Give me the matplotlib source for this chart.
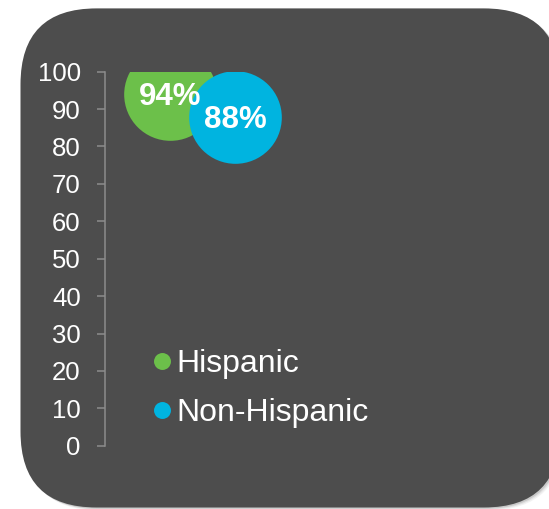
import matplotlib
matplotlib.use("Agg")
import matplotlib.pyplot as plt
from matplotlib.patches import FancyBboxPatch
from matplotlib.lines import Line2D

plt.rcParams['font.family'] = ['Liberation Sans', 'DejaVu Sans']

# data
groups = ["Hispanic", "Non-Hispanic"]
values = [94, 88]
labels = ["94%", "88%"]
xpos = [1, 2]
yticks = [0, 10, 20, 30, 40, 50, 60, 70, 80, 90, 100]

colors = ["#6CC04A", "#00B4E0"]
bg = "#4D4D4D"

fig = plt.figure(figsize=(5.49, 5.09), dpi=100)
fig.patch.set_facecolor("white")

# shadow layers
for i, (dx, dy, a) in enumerate([(0.035, -0.03, 0.10), (0.025, -0.02, 0.15), (0.015, -0.012, 0.25)]):
    sh = FancyBboxPatch((0.205 + dx, 0.015 + dy), 5.395, 4.991,
                        boxstyle="round,pad=0,rounding_size=0.76",
                        transform=fig.dpi_scale_trans, facecolor="#808080",
                        edgecolor="none", alpha=a, zorder=-3)
    fig.patches.append(sh)
box = FancyBboxPatch((0.205, 0.015), 5.395, 4.991,
                     boxstyle="round,pad=0,rounding_size=0.76",
                     transform=fig.dpi_scale_trans, facecolor=bg,
                     edgecolor="none", zorder=-2)
fig.patches.append(box)

ax = fig.add_axes([105 / 549, (509 - 445.7) / 509, 425 / 549, (445.7 - 71.7) / 509])
ax.set_zorder(5)
ax.set_facecolor("none")
ax.set_xlim(0, 425 / 65)
ax.set_ylim(0, 100)

for x, v, c in zip(xpos, values, colors):
    ax.scatter([x], [v], s=4450, color=c, linewidths=0, zorder=3)
for x, v, t in zip(xpos, values, labels):
    ax.annotate(t, (x, v), xytext=(0, -8), textcoords="offset points",
                ha="center", va="baseline", color="white",
                fontsize=22.5, fontweight="bold", zorder=5)

ax.set_yticks(yticks)
ax.set_yticklabels([str(t) for t in yticks])
ax.tick_params(axis="y", colors="#8C8C8C", labelcolor="white", labelsize=18.5,
               length=6, width=1.1, pad=11.5)
ax.set_xticks([])
for s in ["top", "right", "bottom"]:
    ax.spines[s].set_visible(False)
ax.spines["left"].set_color("#8C8C8C")
ax.spines["left"].set_linewidth(1.1)

handles = [Line2D([], [], marker="o", ls="", color=c, markersize=12.2, markeredgewidth=0)
           for c in colors]
leg = ax.legend(handles, groups, loc="upper left",
                bbox_to_anchor=(153.5 / 549, (509 - 349) / 509),
                bbox_transform=fig.transFigure, frameon=False,
                fontsize=23, labelcolor="white", handlelength=0.53,
                handletextpad=0.2, borderpad=0, borderaxespad=0,
                labelspacing=0.6, handleheight=0.7)

fig.savefig("out.png", dpi=100)
